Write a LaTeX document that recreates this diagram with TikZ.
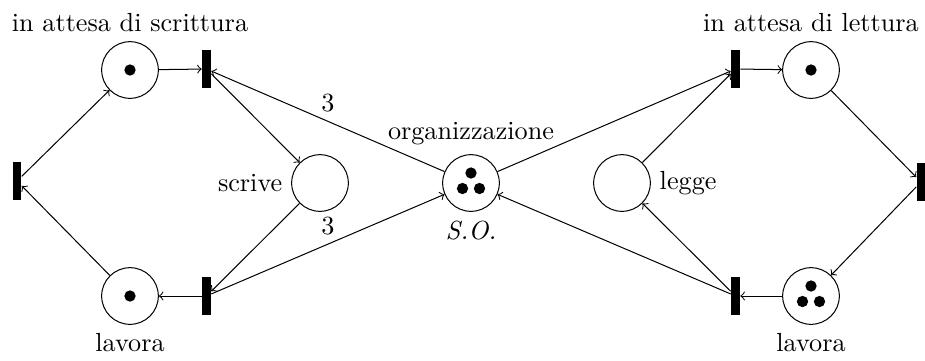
\documentclass[tikz,border=0pt]{standalone}
\begin{document}
\begin{tikzpicture}[x=0.397pt,y=-0.397pt,
  every label/.style={font=\fontsize{10.4pt}{12.5pt}\selectfont},
  place/.style={circle,draw,minimum size=22.5pt,inner sep=0pt,line width=0.4pt},
  trans/.style={rectangle,fill=black,minimum width=3.4pt,minimum height=15pt,inner sep=0pt},
  arc/.style={->,line width=0.4pt},
  weight/.style={above,font=\fontsize{10.4pt}{12.5pt}\selectfont}]
\useasboundingbox (0,0) rectangle (925,360);
% places
\node[place,label=above:{in attesa di scrittura}] (aws) at (130,70) {};
\node[place,label=below:{lavora}] (lavl) at (130,296) {};
\node[place,label=left:{scrive}] (scr) at (320,183) {};
\node[place,label=above:{organizzazione},label=below:{\textit{S.O.}}] (so) at (471,183) {};
\node[place,label=right:{legge}] (leg) at (622,183) {};
\node[place,label=above:{in attesa di lettura}] (awl) at (811,70) {};
\node[place,label=below:{lavora}] (lavr) at (811,296) {};
% transitions
\node[trans] (ttl) at (206.5,69) {};
\node[trans] (tl) at (17,181) {};
\node[trans] (tbl) at (206.5,296) {};
\node[trans] (ttr) at (735.5,69) {};
\node[trans] (tr) at (921,182) {};
\node[trans] (tbr) at (735.5,296) {};
% tokens
\fill (aws) circle (2.25pt);
\fill (lavl) circle (2.25pt);
\fill (awl) circle (2.25pt);
\foreach \n in {so,lavr}{
  \fill (\n) ++(0,-10) circle (2.25pt);
  \fill (\n) ++(-8.5,5.5) circle (2.25pt);
  \fill (\n) ++(8.5,5.5) circle (2.25pt);
}
% arcs
\draw[arc] (aws) -- (ttl);
\draw[arc] (so) -- node[weight] {3} (ttl);
\draw[arc] (ttl) -- (scr);
\draw[arc] (scr) -- (tbl);
\draw[arc] (tbl) -- node[weight] {3} (so);
\draw[arc] (tbl) -- (lavl);
\draw[arc] (lavl) -- (tl);
\draw[arc] (tl) -- (aws);
\draw[arc] (so) -- (ttr);
\draw[arc] (leg) -- (ttr);
\draw[arc] (ttr) -- (awl);
\draw[arc] (awl) -- (tr);
\draw[arc] (tr) -- (lavr);
\draw[arc] (lavr) -- (tbr);
\draw[arc] (tbr) -- (leg);
\draw[arc] (tbr) -- (so);
\end{tikzpicture}
\end{document}
